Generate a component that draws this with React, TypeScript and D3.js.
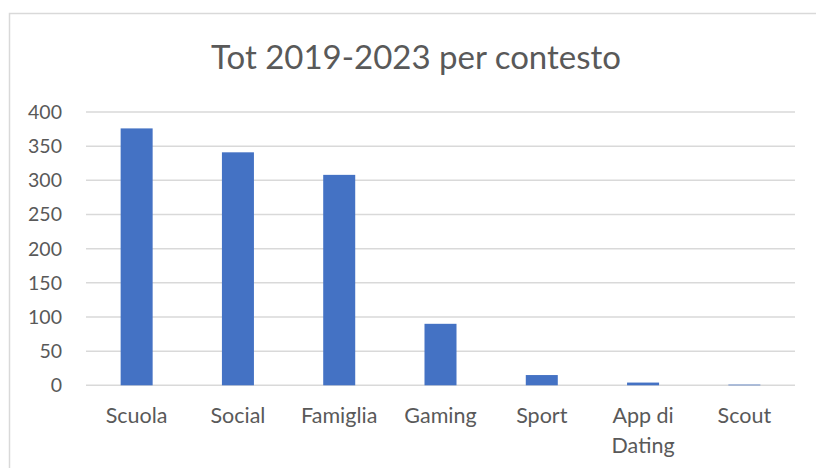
import React from "react";
import * as d3 from "d3";

const categories = ["Scuola", "Social", "Famiglia", "Gaming", "Sport", "App di Dating", "Scout"];
const values = [376, 341, 308, 90, 15, 4, 1];
const yTicks = [0, 50, 100, 150, 200, 250, 300, 350, 400];
const title = "Tot 2019-2023 per contesto";

const W = 816;
const H = 468;
const FONT = "Lato, 'Open Sans', sans-serif";

export default function App() {
  const left = 86, right = 795, top = 112, bottom = 385.3;
  const x = d3.scaleBand<string>().domain(categories).range([left, right]).paddingInner(0.684).paddingOuter(0.342);
  const y = d3.scaleLinear().domain([0, 400]).range([bottom, top]);
  const band = d3.scaleBand<string>().domain(categories).range([left, right]);

  return (
    <svg width={W} height={H} style={{ position: "absolute", left: 0, top: 0, display: "block" }}>
      <rect x={0} y={0} width={W} height={H} fill="#fff" />
      <rect x={9.5} y={13.5} width={W} height={H} fill="#fff" stroke="#d9d9d9" strokeWidth={1.5} />
      <text x={416} y={69} textAnchor="middle" fontFamily={FONT} fontSize={33} fill="#595959">{title}</text>
      {yTicks.map((t) => (
        <g key={t}>
          <line x1={left} x2={right} y1={y(t)} y2={y(t)} stroke="#d9d9d9" strokeWidth={1.5} />
          <text x={62} y={y(t) + 7} textAnchor="end" fontFamily={FONT} fontSize={19.5} fill="#595959">{t}</text>
        </g>
      ))}
      {categories.map((c, i) => (
        <rect key={c} x={x(c)} y={y(values[i])} width={x.bandwidth()} height={Math.max(0, y(0) - y(values[i]))} fill="#4472C4" />
      ))}
      {categories.map((c) => {
        const cx = (band(c) as number) + band.bandwidth() / 2;
        const parts = c === "App di Dating" ? ["App di", "Dating"] : [c];
        return (
          <text key={c} x={cx} textAnchor="middle" fontFamily={FONT} fontSize={21.5} fill="#595959">
            {parts.map((p, j) => (
              <tspan key={j} x={cx} y={423 + j * 30}>{p}</tspan>
            ))}
          </text>
        );
      })}
    </svg>
  );
}
